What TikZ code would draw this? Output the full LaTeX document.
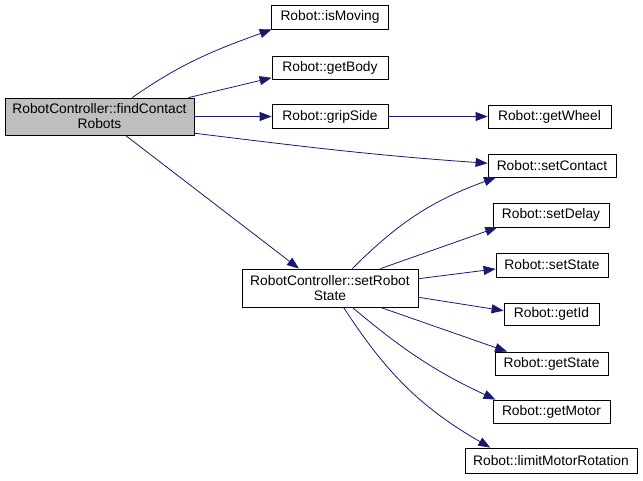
\documentclass[tikz,border=0pt]{standalone}
\usepackage{fontspec}
\setmainfont{Liberation Sans}
\usetikzlibrary{arrows.meta}

\definecolor{edgeblue}{RGB}{25,25,112}
\definecolor{mainfill}{RGB}{191,191,191}

\begin{document}
\begin{tikzpicture}[
    x=1pt, y=1pt,
    fn/.style={draw=black, line width=0.8pt, inner sep=0pt, align=center,
        font=\fontsize{13.8}{15}\selectfont},
    call/.style={edgeblue, line width=0.8pt,
        -{Triangle[length=12pt, width=9pt]}}
]
    \useasboundingbox (0,0) rectangle (643,-480);

    % --- 1. 呼び出し元 ---
    \node [fn, fill=mainfill, minimum width=189, minimum height=37] (findContact) at (99.5,-116.5)
        {RobotController::findContact\\Robots};
    \node [fn, minimum width=176, minimum height=38] (setRobotState) at (330,-288)
        {RobotController::setRobot\\State};

    % --- 2. 中段の関数 ---
    \node [fn, minimum width=117, minimum height=24] (isMoving) at (330,-17) {Robot::isMoving};
    \node [fn, minimum width=116, minimum height=23] (getBody) at (330,-67.5) {Robot::getBody};
    \node [fn, minimum width=116, minimum height=24] (gripSide) at (330,-116.5) {Robot::gripSide};

    % --- 3. 右列の関数 ---
    \node [fn, minimum width=123, minimum height=23] (getWheel) at (549.5,-116.5) {Robot::getWheel};
    \node [fn, minimum width=128, minimum height=23] (setContact) at (552,-165.5) {Robot::setContact};
    \node [fn, minimum width=116, minimum height=24] (setDelay) at (551,-215) {Robot::setDelay};
    \node [fn, minimum width=112, minimum height=24] (setState) at (552,-265) {Robot::setState};
    \node [fn, minimum width=95, minimum height=22] (getId) at (551.5,-314) {Robot::getId};
    \node [fn, minimum width=113, minimum height=23] (getState) at (551.5,-363.5) {Robot::getState};
    \node [fn, minimum width=117, minimum height=23] (getMotor) at (551.5,-411.5) {Robot::getMotor};
    \node [fn, minimum width=172, minimum height=25] (limitRot) at (551,-460.5) {Robot::limitMotorRotation};

    % --- 4. 呼び出しの矢印 ---
    \draw [call] (findContact.30) to[out=35, in=200] (isMoving.192);
    \draw [call] (findContact.12) -- (getBody.190);
    \draw [call] (findContact.east) -- (gripSide.west);
    \draw [call] (gripSide.east) -- (getWheel.west);
    \draw [call] (findContact.-10) to[out=-7, in=176] (setContact.178);
    \draw [call] (findContact.-36) -- (setRobotState.148);

    \draw [call] (setRobotState.41) to[out=45, in=200] (setContact.192.5);
    \draw [call] (setRobotState.21) -- (setDelay.193);
    \draw [call] (setRobotState.6.5) -- (setState.184);
    \draw [call] (setRobotState.-6.5) -- (getId.176.4);
    \draw [call] (setRobotState.-21) -- (getState.165.5);
    \draw [call] (setRobotState.-41) to[out=-40, in=155] (getMotor.168.5);
    \draw [call] (setRobotState.-55.6) to[out=-57, in=150] (limitRot.168);

\end{tikzpicture}
\end{document}
